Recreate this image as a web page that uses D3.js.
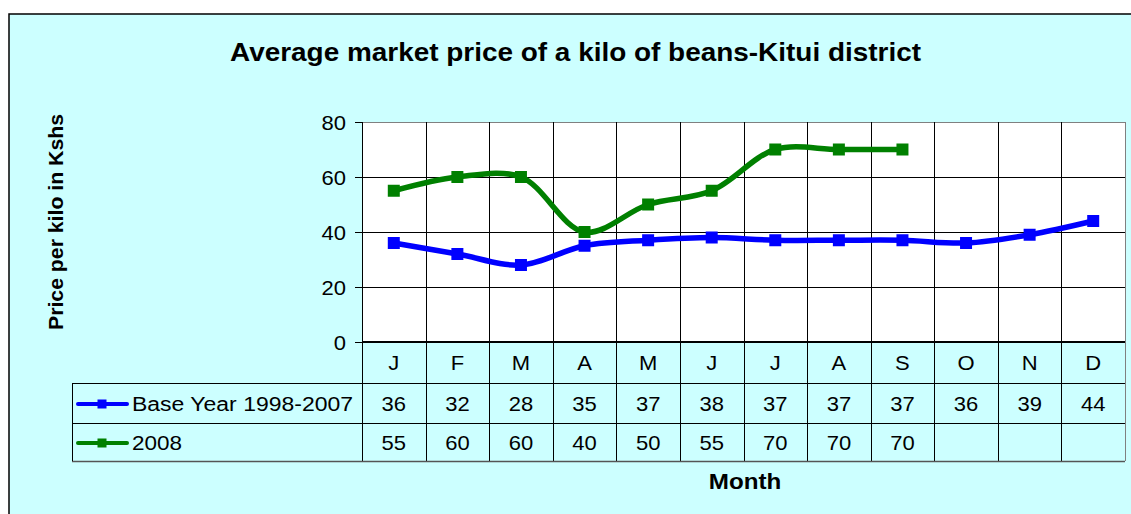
<!DOCTYPE html>
<html>
<head>
<meta charset="utf-8">
<script src="https://cdn.jsdelivr.net/npm/d3@7"></script>
<style>
  html, body { margin: 0; padding: 0; background: #ffffff; }
  svg { display: block; }
  text { font-family: "Liberation Sans", Arial, sans-serif; fill: #000; }
</style>
</head>
<body>
<svg id="chart" width="1131" height="514"></svg>
<script>
// ---- data ----
const months = ["J", "F", "M", "A", "M", "J", "J", "A", "S", "O", "N", "D"];
const baseYear = [36, 32, 28, 35, 37, 38, 37, 37, 37, 36, 39, 44];
const year2008 = [55, 60, 60, 40, 50, 55, 70, 70, 70];
const yTicks = [0, 20, 40, 60, 80];
const seriesNames = ["Base Year 1998-2007", "2008"];
const seriesColors = ["#0000ff", "#008000"];
const titleText = "Average market price of a kilo of beans-Kitui district";
const yLabel = "Price per kilo in Kshs";
const xLabel = "Month";

// ---- layout ----
const W = 1131, H = 514;
const plot = { left: 362, right: 1125, top: 122, bottom: 342 };
const rows = [342, 383, 423, 461];
const tableLeft = 72;
const SX = 1.1; // horizontal text stretch seen in the reference

const svg = d3.select("#chart");

// background and outer frame
svg.append("rect").attr("x", 9).attr("y", 14).attr("width", W).attr("height", H)
  .attr("fill", "#ccffff").attr("stroke", "#000").attr("stroke-width", 1.5);

const x = d3.scaleBand().domain(d3.range(months.length)).range([plot.left, plot.right]);
const y = d3.scaleLinear().domain([0, 80]).range([plot.bottom, plot.top]);

function stretchedText(g, str, tx, ty, size, weight, anchor) {
  return g.append("text")
    .attr("transform", `translate(${tx},${ty}) scale(${SX},1)`)
    .attr("text-anchor", anchor || "middle")
    .attr("font-size", size)
    .attr("font-weight", weight || "normal")
    .text(str);
}

// plot area
svg.append("rect").attr("x", plot.left).attr("y", plot.top)
  .attr("width", plot.right - plot.left).attr("height", plot.bottom - plot.top)
  .attr("fill", "#ffffff");

// horizontal gridlines
svg.append("g").selectAll("line").data(yTicks.filter(d => d > 0)).join("line")
  .attr("x1", plot.left).attr("x2", plot.right)
  .attr("y1", d => Math.round(y(d)) + 0.5).attr("y2", d => Math.round(y(d)) + 0.5)
  .attr("stroke", d => d === 80 ? "#808080" : "#000").attr("stroke-width", 1);

// vertical gridlines (through plot and table)
const bounds = d3.range(months.length + 1).map(i => i < months.length ? x(i) : plot.right);
svg.append("g").selectAll("line").data(bounds).join("line")
  .attr("x1", d => Math.round(d) + 0.5).attr("x2", d => Math.round(d) + 0.5)
  .attr("y1", plot.top).attr("y2", rows[3])
  .attr("stroke", (d, i) => i === months.length ? "#808080" : "#000").attr("stroke-width", 1);

// table horizontal lines
svg.append("g").selectAll("line").data(rows.slice(1)).join("line")
  .attr("x1", tableLeft).attr("x2", plot.right)
  .attr("y1", d => d + 0.5).attr("y2", d => d + 0.5)
  .attr("stroke", (d, i) => i === 2 ? "#555" : "#000").attr("stroke-width", (d, i) => i === 2 ? 1.5 : 1);
svg.append("line").attr("x1", tableLeft + 0.5).attr("x2", tableLeft + 0.5)
  .attr("y1", rows[1]).attr("y2", rows[3]).attr("stroke", "#000");

// x axis line (0)
svg.append("line").attr("x1", plot.left).attr("x2", plot.right)
  .attr("y1", plot.bottom).attr("y2", plot.bottom).attr("stroke", "#000").attr("stroke-width", 2);

// y axis
const yAxis = svg.append("g").attr("transform", `translate(${plot.left},0)`)
  .call(d3.axisLeft(y).tickValues(yTicks).tickSize(7).tickPadding(9));
yAxis.select(".domain").attr("stroke", "#000");
yAxis.selectAll(".tick line").attr("stroke", "#000");
yAxis.selectAll(".tick text").attr("font-size", 20)
  .attr("font-family", '"Liberation Sans", Arial, sans-serif')
  .attr("transform", `scale(${SX},1)`)
  .attr("x", -16 / SX).attr("dy", "0.36em");

// category row labels
const cat = svg.append("g");
months.forEach((m, i) => stretchedText(cat, m, x(i) + x.bandwidth() / 2, (rows[0] + rows[1]) / 2 + 7, 20));

// series lines
const line = d3.line().x((d, i) => x(i) + x.bandwidth() / 2).y(d => y(d))
  .curve(d3.curveCatmullRom.alpha(0.5));
const series = [baseYear, year2008];
series.forEach((vals, s) => {
  svg.append("path").datum(vals).attr("d", line)
    .attr("fill", "none").attr("stroke", seriesColors[s]).attr("stroke-width", 5.5)
    .attr("stroke-linejoin", "round").attr("stroke-linecap", "round");
  svg.append("g").selectAll("rect").data(vals).join("rect")
    .attr("x", (d, i) => x(i) + x.bandwidth() / 2 - 6)
    .attr("y", d => y(d) - 6)
    .attr("width", 12).attr("height", 12)
    .attr("fill", seriesColors[s]);
});

// table rows: legend + values
series.forEach((vals, s) => {
  const cy = (rows[s + 1] + rows[s + 2]) / 2;
  const g = svg.append("g");
  g.append("line").attr("x1", 78).attr("x2", 127).attr("y1", cy + 1).attr("y2", cy + 1)
    .attr("stroke", seriesColors[s]).attr("stroke-width", 4).attr("stroke-linecap", "round");
  g.append("rect").attr("x", 102 - 4.5).attr("y", cy + 1 - 4.5).attr("width", 9).attr("height", 9)
    .attr("fill", seriesColors[s]);
  const t = g.append("text").attr("x", 132).attr("y", cy + 8).attr("font-size", 20)
    .text(seriesNames[s]);
  if (s === 0) t.attr("textLength", 221).attr("lengthAdjust", "spacingAndGlyphs");
  else t.attr("textLength", 50).attr("lengthAdjust", "spacingAndGlyphs");
  vals.forEach((v, i) => stretchedText(g, d3.format("d")(v), x(i) + x.bandwidth() / 2, cy + 8, 20));
});

// title
svg.append("text").attr("x", 230).attr("y", 61).attr("font-size", 25).attr("font-weight", "bold")
  .attr("textLength", 691).attr("lengthAdjust", "spacingAndGlyphs").text(titleText);

// axis titles
svg.append("text").attr("transform", `translate(63,222) rotate(-90)`)
  .attr("text-anchor", "middle").attr("font-size", 21).attr("font-weight", "bold")
  .attr("textLength", 216).attr("lengthAdjust", "spacingAndGlyphs").text(yLabel);
stretchedText(svg, xLabel, 745, 489, 22, "bold");
</script>
</body>
</html>
